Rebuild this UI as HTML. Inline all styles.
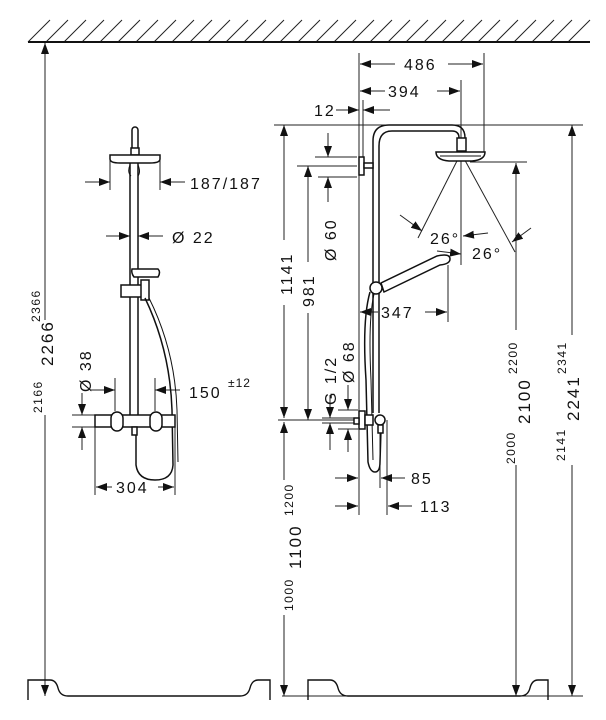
<!DOCTYPE html>
<html><head><meta charset="utf-8"><style>
html,body{margin:0;padding:0;background:#fff}
svg{display:block}
text{font-family:"Liberation Sans",sans-serif;fill:#111}
</style></head><body>
<svg width="606" height="720" viewBox="0 0 606 720" xmlns="http://www.w3.org/2000/svg">
<defs>
<marker id="a" markerUnits="userSpaceOnUse" markerWidth="12" markerHeight="10" refX="11" refY="4" orient="auto"><path d="M0,0 L11,4 L0,8 z" fill="#111"/></marker>
</defs>
<g stroke="#222" stroke-width="1">
<path d="M28,42 L50,20 M46,42 L68,20 M64,42 L86,20 M82,42 L104,20 M100,42 L122,20 M118,42 L140,20 M136,42 L158,20 M154,42 L176,20 M172,42 L194,20 M190,42 L212,20 M208,42 L230,20 M226,42 L248,20 M244,42 L266,20 M262,42 L284,20 M280,42 L302,20 M298,42 L320,20 M316,42 L338,20 M334,42 L356,20 M352,42 L374,20 M370,42 L392,20 M388,42 L410,20 M406,42 L428,20 M424,42 L446,20 M442,42 L464,20 M460,42 L482,20 M478,42 L500,20 M496,42 L518,20 M514,42 L536,20 M532,42 L554,20 M550,42 L572,20 M568,42 L590,20"/>
</g>
<line x1="28" y1="42" x2="590" y2="42" stroke="#111" stroke-width="2"/>

<g stroke="#222" stroke-width="1" fill="none">
<line x1="45" y1="320" x2="45" y2="43" marker-end="url(#a)"/>
<line x1="45" y1="415" x2="45" y2="696" marker-end="url(#a)"/>
<path d="M28,700 V680 H50 Q56,680 58,688 Q60,696 68,696 H240 Q248,696 250,688 Q252,680 258,680 H270 V700" stroke="#111" stroke-width="1.4"/>
<line x1="282" y1="696" x2="583" y2="696"/>
<path d="M308,700 V680 H330 Q336,680 338,688 Q340,696 348,696 H520 Q528,696 530,688 Q532,680 538,680 H548 V700" stroke="#111" stroke-width="1.4"/>

<line x1="110" y1="160" x2="110" y2="190"/><line x1="160" y1="160" x2="160" y2="190"/>
<line x1="85" y1="182" x2="110" y2="182" marker-end="url(#a)"/>
<line x1="185" y1="182" x2="160" y2="182" marker-end="url(#a)"/>
<line x1="106" y1="236" x2="130" y2="236" marker-end="url(#a)"/>
<line x1="163" y1="236" x2="138" y2="236" marker-end="url(#a)"/>
<line x1="115" y1="378" x2="115" y2="411"/><line x1="155" y1="378" x2="155" y2="411"/>
<line x1="90" y1="390" x2="115" y2="390" marker-end="url(#a)"/>
<line x1="180" y1="390" x2="155" y2="390" marker-end="url(#a)"/>
<line x1="72" y1="415" x2="95" y2="415"/><line x1="72" y1="427" x2="95" y2="427"/>
<line x1="82" y1="393" x2="82" y2="415" marker-end="url(#a)"/>
<line x1="82" y1="450" x2="82" y2="427" marker-end="url(#a)"/>
<line x1="95" y1="427" x2="95" y2="495"/><line x1="175" y1="427" x2="175" y2="495"/>
<line x1="112" y1="487" x2="96" y2="487" marker-end="url(#a)"/>
<line x1="158" y1="487" x2="174" y2="487" marker-end="url(#a)"/>
</g>

<g stroke="#111" stroke-width="1.5" fill="#fff">
<rect x="132" y="127" width="6" height="24" rx="3"/>
<rect x="131" y="148" width="8" height="7"/>
<path d="M110,155 H160 V159 Q160,163 150,163 H120 Q110,163 110,159 z"/>
<path d="M130,165 Q127,172 131,176 M138,165 Q141,172 138,176" fill="none" stroke-width="1"/>
<line x1="130" y1="163" x2="130" y2="415"/><line x1="138" y1="163" x2="138" y2="415"/>
<path d="M132,269 H158 Q161,272 158,277 H134 Q131,273 132,269 z"/>
<rect x="121" y="285" width="27" height="12"/>
<rect x="141" y="280" width="8" height="20"/>
<path d="M145,298 Q170,350 172,410 L173,465 Q172,480 155,480 Q138,480 136,465 L136,430" fill="none"/>
<path d="M149,298 Q175,350 177,410 L178,462" fill="none" stroke-width="1"/>
<rect x="95" y="415" width="80" height="12"/>
<rect x="111" y="412" width="12" height="19" rx="6"/>
<rect x="150" y="412" width="12" height="19" rx="6"/>
<rect x="132" y="427" width="5" height="8"/>
</g>

<g stroke="#222" stroke-width="1" fill="none">
<line x1="359" y1="53" x2="359" y2="515"/>
<line x1="484" y1="53" x2="484" y2="152"/>
<line x1="461" y1="80" x2="461" y2="265"/>
<line x1="363" y1="100" x2="363" y2="157"/>
<line x1="395" y1="64" x2="360" y2="64" marker-end="url(#a)"/>
<line x1="448" y1="64" x2="483" y2="64" marker-end="url(#a)"/>
<line x1="385" y1="91" x2="360" y2="91" marker-end="url(#a)"/>
<line x1="437" y1="91" x2="460" y2="91" marker-end="url(#a)"/>
<line x1="336" y1="110" x2="359" y2="110" marker-end="url(#a)"/>
<line x1="390" y1="110" x2="363" y2="110" marker-end="url(#a)"/>
<line x1="274" y1="125" x2="583" y2="125"/>
<line x1="315" y1="157" x2="357" y2="157"/>
<line x1="297" y1="166" x2="357" y2="166"/>
<line x1="318" y1="177" x2="357" y2="177"/>
<line x1="284" y1="240" x2="284" y2="125" marker-end="url(#a)"/>
<line x1="284" y1="305" x2="284" y2="418" marker-end="url(#a)"/>
<line x1="308" y1="262" x2="308" y2="166" marker-end="url(#a)"/>
<line x1="308" y1="313" x2="308" y2="420" marker-end="url(#a)"/>
<line x1="328" y1="133" x2="328" y2="157" marker-end="url(#a)"/>
<line x1="328" y1="202" x2="328" y2="177" marker-end="url(#a)"/>
<line x1="470" y1="162" x2="527" y2="162"/>
<line x1="516" y1="330" x2="516" y2="163" marker-end="url(#a)"/>
<line x1="516" y1="465" x2="516" y2="696" marker-end="url(#a)"/>
<line x1="572" y1="335" x2="572" y2="125" marker-end="url(#a)"/>
<line x1="572" y1="465" x2="572" y2="696" marker-end="url(#a)"/>
<line x1="461" y1="153" x2="418" y2="238"/>
<line x1="461" y1="153" x2="515" y2="252"/>
<line x1="400" y1="215" x2="422" y2="231" marker-end="url(#a)"/>
<line x1="488" y1="233" x2="463" y2="236" marker-end="url(#a)"/>
<line x1="437" y1="251" x2="461" y2="254" marker-end="url(#a)"/>
<line x1="531" y1="228" x2="512" y2="242" marker-end="url(#a)"/>
<line x1="448" y1="265" x2="448" y2="322"/>
<line x1="378" y1="312" x2="360" y2="312" marker-end="url(#a)"/>
<line x1="425" y1="312" x2="447" y2="312" marker-end="url(#a)"/>
<line x1="278" y1="420" x2="356" y2="420"/>
<line x1="284" y1="480" x2="284" y2="422" marker-end="url(#a)"/>
<line x1="284" y1="615" x2="284" y2="696" marker-end="url(#a)"/>
<line x1="330" y1="395" x2="330" y2="418" marker-end="url(#a)"/>
<line x1="330" y1="450" x2="330" y2="423" marker-end="url(#a)"/>
<line x1="322" y1="418" x2="356" y2="418"/><line x1="322" y1="423" x2="356" y2="423"/>
<line x1="348" y1="385" x2="348" y2="410" marker-end="url(#a)"/>
<line x1="348" y1="452" x2="348" y2="429" marker-end="url(#a)"/>
<line x1="338" y1="410" x2="358" y2="410"/><line x1="338" y1="429" x2="358" y2="429"/>
<line x1="380" y1="430" x2="380" y2="488"/>
<line x1="387" y1="420" x2="387" y2="515"/>
<line x1="335" y1="478" x2="358" y2="478" marker-end="url(#a)"/>
<line x1="405" y1="478" x2="381" y2="478" marker-end="url(#a)"/>
<line x1="335" y1="506" x2="358" y2="506" marker-end="url(#a)"/>
<line x1="412" y1="506" x2="388" y2="506" marker-end="url(#a)"/>
</g>

<g stroke="#111" stroke-width="1.5" fill="none">
<path d="M373,413 V141 Q373,125 389,125 H452 Q465,125 465,138"/>
<path d="M379,413 V146 Q379,131 392,131 H452 Q459,131 459,138"/>
<rect x="457" y="138" width="9" height="13" fill="#fff"/>
<path d="M436,152 H485 Q485,160 472,161 H449 Q436,160 436,152 z" fill="#fff"/>
<line x1="440" y1="156" x2="481" y2="156" stroke-width="1"/>
<rect x="359" y="157" width="5" height="18" fill="#fff"/>
<rect x="364" y="163" width="9" height="5" fill="#fff"/>
<path d="M381,283 L437,256 Q450,253 450,259 Q450,264 440,265 L384,292 z" fill="#fff"/>
<path d="M370,292 Q362,320 366,380 L368,462 Q370,472 375,472 Q380,472 380,462 L381,430"/>
<path d="M374,294 Q368,320 371,380 L373,460" stroke-width="1"/>
<circle cx="376" cy="288" r="6" fill="#fff"/>
<rect x="359" y="411" width="6" height="18" fill="#fff"/>
<rect x="354" y="418" width="5" height="6" fill="#fff"/>
<rect x="365" y="415" width="8" height="10" fill="#fff"/>
<circle cx="380" cy="420" r="5" fill="#fff"/>
<rect x="378" y="425" width="5" height="8" fill="#fff"/>
</g>

<g font-size="16" letter-spacing="2">
<text x="190" y="189">187/187</text>
<text x="172" y="243">Ø 22</text>
<text x="189" y="398">150</text>
<text x="228" y="387" font-size="12" letter-spacing="1">±12</text>
<text x="116" y="493">304</text>
<text x="404" y="70">486</text>
<text x="388" y="97">394</text>
<text x="314" y="116">12</text>
<text x="381" y="318">347</text>
<text x="411" y="484">85</text>
<text x="420" y="512">113</text>
<text x="430" y="244">26°</text>
<text x="472" y="259">26°</text>
<text transform="translate(53,366) rotate(-90)" font-size="17">2266</text>
<text transform="translate(40,322) rotate(-90)" font-size="12" letter-spacing="1.5">2366</text>
<text transform="translate(42,413) rotate(-90)" font-size="12" letter-spacing="1.5">2166</text>
<text transform="translate(91,392) rotate(-90)">Ø 38</text>
<text transform="translate(292,295) rotate(-90)">1141</text>
<text transform="translate(314,307) rotate(-90)">981</text>
<text transform="translate(336,261) rotate(-90)">Ø 60</text>
<text transform="translate(336,405) rotate(-90)">G 1/2</text>
<text transform="translate(354,383) rotate(-90)">Ø 68</text>
<text transform="translate(293,516) rotate(-90)" font-size="12" letter-spacing="1.5">1200</text>
<text transform="translate(301,569) rotate(-90)" font-size="17">1100</text>
<text transform="translate(293,611) rotate(-90)" font-size="12" letter-spacing="1.5">1000</text>
<text transform="translate(517,374) rotate(-90)" font-size="12" letter-spacing="1.5">2200</text>
<text transform="translate(530,424) rotate(-90)" font-size="17">2100</text>
<text transform="translate(515,464) rotate(-90)" font-size="12" letter-spacing="1.5">2000</text>
<text transform="translate(566,374) rotate(-90)" font-size="12" letter-spacing="1.5">2341</text>
<text transform="translate(579,421) rotate(-90)" font-size="17">2241</text>
<text transform="translate(565,461) rotate(-90)" font-size="12" letter-spacing="1.5">2141</text>
</g>
</svg>
</body></html>
